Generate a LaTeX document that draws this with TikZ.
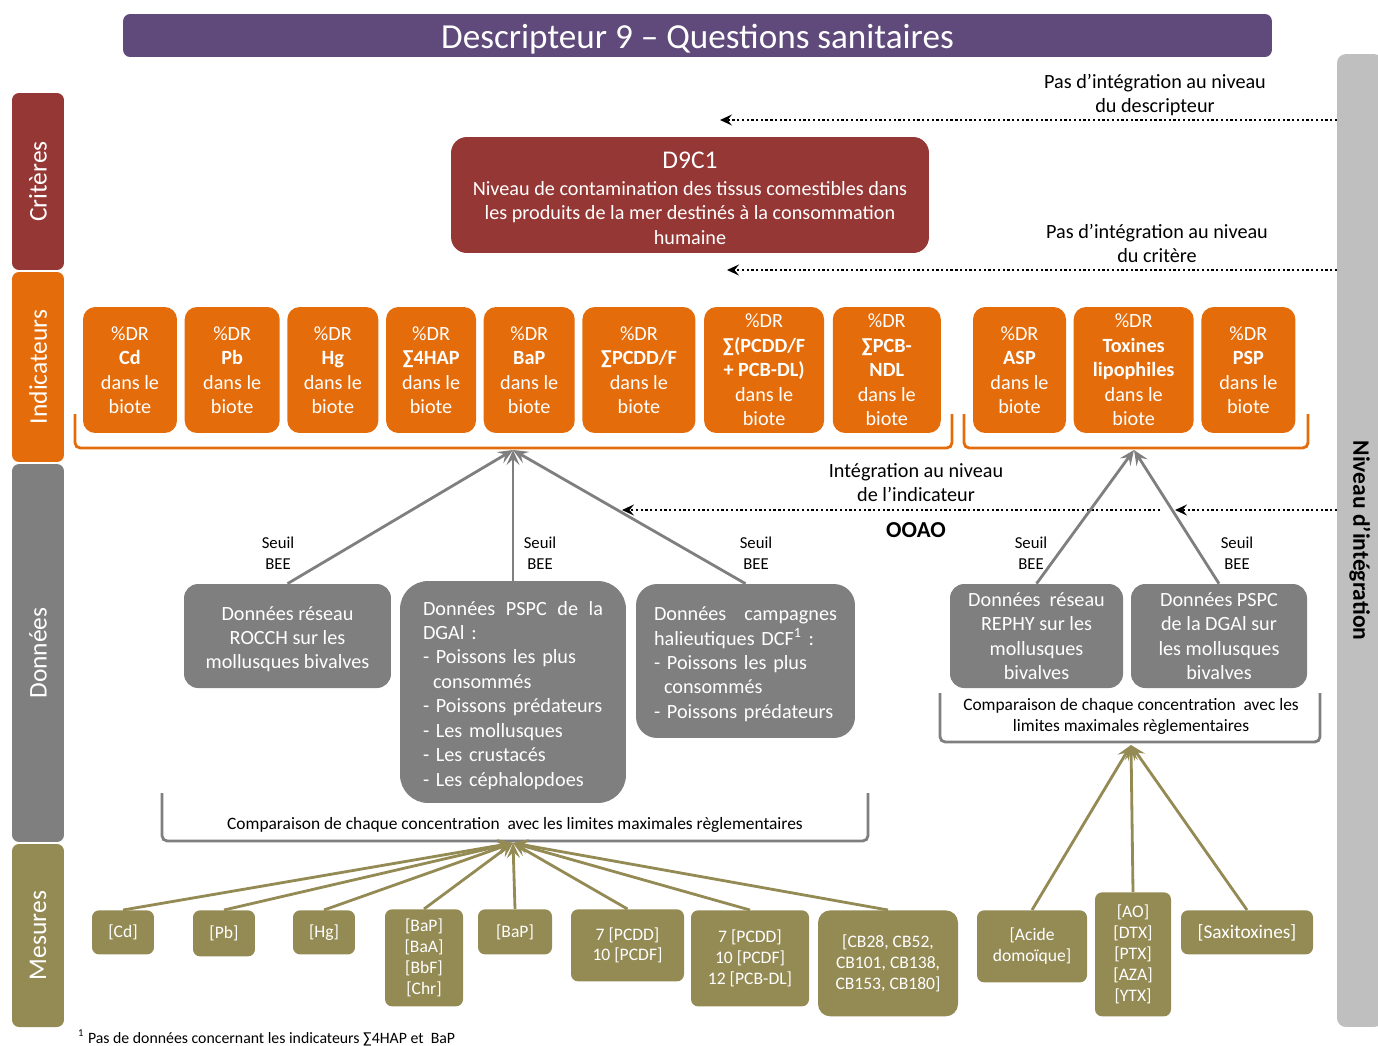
\documentclass[tikz,border=0pt]{standalone}
\usepackage{fontspec}
\setmainfont{Carlito}
\usetikzlibrary{arrows.meta,positioning,calc}
\definecolor{titleviolet}{HTML}{604A7B}
\definecolor{critred}{HTML}{953735}
\definecolor{indorange}{HTML}{E46C0A}
\definecolor{datagray}{HTML}{7F7F7F}
\definecolor{mesolive}{HTML}{948A54}
\definecolor{sidegray}{HTML}{BFBFBF}
\newcommand{\fs}[2]{\fontsize{#1}{#2}\selectfont}
\newcommand{\topstrut}{\rule{0pt}{11.6pt}}

\begin{document}
\begin{tikzpicture}[x=0.02cm,y=-0.02cm,
  node distance=1.4mm,
  band/.style={rounded corners=4pt,fill=#1,text=white,inner sep=0pt,minimum height=10.4mm,font=\fs{14.5}{17},rotate=90},
  ind/.style={rounded corners=7pt,fill=indorange,text=white,align=center,inner sep=1pt,minimum height=25.2mm,font=\fs{11.5}{13.9}},
  datab/.style={rounded corners=8pt,fill=datagray,text=white,inner sep=0pt,minimum height=20.8mm,font=\fs{11.5}{13.9}},
  mes/.style={rounded corners=4pt,fill=mesolive,text=white,align=center,inner sep=0pt,anchor=north,font=\fs{10}{11.9}},
  seuil/.style={align=center,font=\fs{9.5}{11.9}},
  note/.style={align=center,font=\fs{11.5}{13.6}},
  dotarr/.style={line width=1.3pt,dash pattern=on 1.3pt off 1.4pt,-{Stealth[length=2.4mm,width=2.2mm,inset=0.9mm]}},
  grayarr/.style={draw=datagray,line width=1.6pt,-{Stealth[length=3mm,width=2.6mm,inset=1.2mm]}},
  olivearr/.style={draw=mesolive,line width=1.6pt,-{Stealth[length=3mm,width=2.6mm,inset=1.2mm]}},
  indbrace/.style={draw=indorange,line width=1.6pt,rounded corners=3pt},
  cmpbrace/.style={draw=datagray,line width=1.6pt,rounded corners=3pt}]
  \useasboundingbox (0,0) rectangle (1378,1045);

  % titre et bandeaux
  \node[fill=titleviolet,text=white,rounded corners=4pt,minimum width=229.8mm,minimum height=8.6mm,inner sep=0pt,text height=6mm,text depth=1mm,font=\fs{20}{24}] (titre) at (697.5,35.5) {Descripteur 9 -- Questions sanitaires};
  \node[band=critred,minimum width=35.4mm] (crit) at (38,181.5) {Critères};
  \node[band=indorange,minimum width=38mm] (indic) at (38,367) {Indicateurs};
  \node[band=datagray,minimum width=75.6mm] (donn) at (38,653) {Données};
  \node[band=mesolive,minimum width=36.6mm] (mesu) at (38,935.5) {Mesures};
  \node[fill=sidegray,rounded corners=5pt,rotate=-90,minimum width=194.6mm,minimum height=9.2mm,inner sep=0pt,font=\bfseries\fs{13.4}{15}] (integ) at (1360,540.5) {Niveau d’intégration};

  % critere
  \node[rounded corners=9pt,fill=critred,text=white,align=center,minimum width=95.6mm,minimum height=23.2mm,inner sep=0pt,font=\fs{11.5}{14}] (d9c1) at (690,195)
    {{\fs{14.5}{16}\rule{0pt}{13pt}D9C1}\\[1.2pt]Niveau de contamination des tissus comestibles dans\\les produits de la mer destinés à la consommation\\humaine};

  % indicateurs
  \node[ind,minimum width=18.8mm] (icd) at (130,370) {\%DR\\\textbf{Cd}\\dans le\\biote};
  \node[ind,minimum width=19mm,right=of icd] (ipb) {\%DR\\\textbf{Pb}\\dans le\\biote};
  \node[ind,minimum width=18.2mm,right=of ipb] (ihg) {\%DR\\\textbf{Hg}\\dans le\\biote};
  \node[ind,minimum width=18mm,right=of ihg] (ihap) {\%DR\\\textbf{∑4HAP}\\dans le\\biote};
  \node[ind,minimum width=18.2mm,right=of ihap] (ibap) {\%DR\\\textbf{BaP}\\dans le\\biote};
  \node[ind,minimum width=22.6mm,right=of ibap] (ipcdd) {\%DR\\\textbf{∑PCDD/F}\\dans le\\biote};
  \node[ind,minimum width=24mm,right=1.6mm of ipcdd] (ipcbdl) {\%DR\\\textbf{∑(PCDD/F}\\\textbf{+ PCB-DL)}\\dans le\\biote};
  \node[ind,minimum width=21.6mm,right=1.6mm of ipcbdl] (indl) {\%DR\\\textbf{∑PCB-}\\\textbf{NDL}\\dans le\\biote};
  \node[ind,minimum width=18.6mm] (iasp) at (1019.5,370) {\%DR\\\textbf{ASP}\\dans le\\biote};
  \node[ind,minimum width=24mm,right=of iasp] (itox) {\%DR\\\textbf{Toxines}\\\textbf{lipophiles}\\dans le\\biote};
  \node[ind,minimum width=18.8mm,right=of itox] (ipsp) {\%DR\\\textbf{PSP}\\dans le\\biote};
  \draw[indbrace] (75,414) -- (75,448) -- (952,448) -- (952,414);
  \draw[indbrace] (964,414) -- (964,448) -- (1308,448) -- (1308,414);
  \coordinate (tipL) at (513,450);
  \coordinate (tipR) at (1134,450);

  % niveaux d'integration
  \node[note] (lbdesc) at (1155,95) {Pas d’intégration au niveau\\du descripteur};
  \node[note] (lbcrit) at (1157,243) {Pas d’intégration au niveau\\du critère};
  \node[note] (lbind) at (916,483) {Intégration au niveau\\de l’indicateur};
  \node[font=\bfseries\fs{13}{15}] (ooao) at (916,530) {OOAO};
  \coordinate (d1a) at (1337,120); \coordinate (d1b) at (720,120);
  \coordinate (d2a) at (1337,270); \coordinate (d2b) at (727,270);
  \coordinate (d3a) at (1160,510); \coordinate (d3b) at (622,510);
  \coordinate (d4a) at (1337,510); \coordinate (d4b) at (1175,510);
  \draw[dotarr] (d1a) -- (d1b);
  \draw[dotarr] (d2a) -- (d2b);
  \draw[dotarr] (d3a) -- (d3b);
  \draw[dotarr] (d4a) -- (d4b);

  % donnees
  \node[datab,minimum width=41.4mm,align=center] (rocch) at (287.5,636) {\topstrut Données réseau\\ROCCH sur les\\mollusques bivalves};
  \node[datab,rounded corners=16pt,minimum height=44.4mm,inner xsep=0.46cm,text width=3.6cm,align=left] (pspc) at (513,692)
    {\hbox to 3.6cm{\topstrut Données\hfill PSPC\hfill de\hfill la}\\DGAl :\\- Poissons les plus\\\hspace*{0.2cm}consommés\\- Poissons prédateurs\\- Les mollusques\\- Les crustacés\\- Les céphalopdoes};
  \node[datab,rounded corners=12pt,minimum height=30.8mm,inner xsep=0.36cm,text width=3.66cm,align=left] (dcf) at (745.5,661)
    {\hbox to 3.66cm{\topstrut Données\hfill campagnes}\\halieutiques DCF\textsuperscript{1} :\\- Poissons les plus\\\hspace*{0.2cm}consommés\\- Poissons prédateurs};
  \node[datab,minimum width=34.6mm,align=center] (rephy) at (1036.5,636) {Données\ \ réseau\\REPHY sur les\\mollusques\\bivalves};
  \node[datab,minimum width=35.2mm,align=center] (pspcm) at (1219,636) {Données PSPC\\de la DGAl sur\\les mollusques\\bivalves};
  \node[seuil] (s1) at (278,553) {Seuil\\BEE};
  \node[seuil] (s2) at (540,553) {Seuil\\BEE};
  \node[seuil] (s3) at (756,553) {Seuil\\BEE};
  \node[seuil] (s4) at (1031,553) {Seuil\\BEE};
  \node[seuil] (s5) at (1237,553) {Seuil\\BEE};
  \draw[grayarr] (rocch.north) -- (tipL);
  \draw[grayarr] (pspc.north) -- (tipL);
  \draw[grayarr] (dcf.north) -- (tipL);
  \draw[grayarr] (rephy.north) -- (tipR);
  \draw[grayarr] (pspcm.north) -- (tipR);

  % comparaison
  \draw[cmpbrace] (162,793) -- (162,841) -- (868,841) -- (868,793);
  \draw[cmpbrace] (940,693) -- (940,742) -- (1320,742) -- (1320,693);
  \node[font=\fs{9.9}{12}] (cmpl) at (515,825) {Comparaison de chaque concentration\ \ avec les limites maximales règlementaires};
  \node[align=center,font=\fs{9.9}{12}] (cmpr) at (1131,716) {Comparaison de chaque concentration\ \ avec les\\limites maximales règlementaires};
  \coordinate (tipM) at (513,843);
  \coordinate (tipN) at (1131,745);

  % mesures
  \node[mes,minimum width=12.4mm,minimum height=8.8mm] (mcd) at (123,910) {[Cd]};
  \node[mes,minimum width=12.4mm,minimum height=9.2mm] (mpb) at (224,910) {[Pb]};
  \node[mes,minimum width=12.4mm,minimum height=8.8mm] (mhg) at (324,910) {[Hg]};
  \node[mes,minimum width=15.6mm,minimum height=19.4mm] (mhap) at (424,909) {[BaP]\\{}[BaA]\\{}[BbF]\\{}[Chr]};
  \node[mes,minimum width=14.8mm,minimum height=9mm] (mbap) at (515,909) {[BaP]};
  \node[mes,minimum width=22.6mm,minimum height=14.4mm] (mpcdd) at (627.5,909) {7 [PCDD]\\10 [PCDF]};
  \node[mes,minimum width=23.6mm,minimum height=19.2mm] (mpcbdl) at (750,910) {7 [PCDD]\\10 [PCDF]\\12 [PCB-DL]};
  \node[mes,minimum width=28mm,minimum height=21.2mm,rounded corners=7pt] (mndl) at (888,910) {[CB28, CB52,\\CB101, CB138,\\CB153, CB180]};
  \node[mes,minimum width=22mm,minimum height=14.4mm] (masp) at (1032,910) {[Acide\\domoïque]};
  \node[mes,minimum width=15.2mm,minimum height=24.8mm] (mlipo) at (1133,892) {[AO]\\{}[DTX]\\{}[PTX]\\{}[AZA]\\{}[YTX]};
  \node[mes,minimum width=26.4mm,minimum height=8.8mm,font=\fs{11}{13}] (msaxi) at (1247,910) {[Saxitoxines]};
  \foreach \m in {mcd,mpb,mhg,mhap,mbap,mpcdd,mpcbdl,mndl}
    \draw[olivearr] (\m.north) -- (tipM);
  \foreach \m in {masp,mlipo,msaxi}
    \draw[olivearr] (\m.north) -- (tipN);

  \node[anchor=west,font=\fs{9}{11}] (fnote) at (72,1038) {\textsuperscript{1} Pas de données concernant les indicateurs ∑4HAP et\ \ BaP};
\end{tikzpicture}
\end{document}
